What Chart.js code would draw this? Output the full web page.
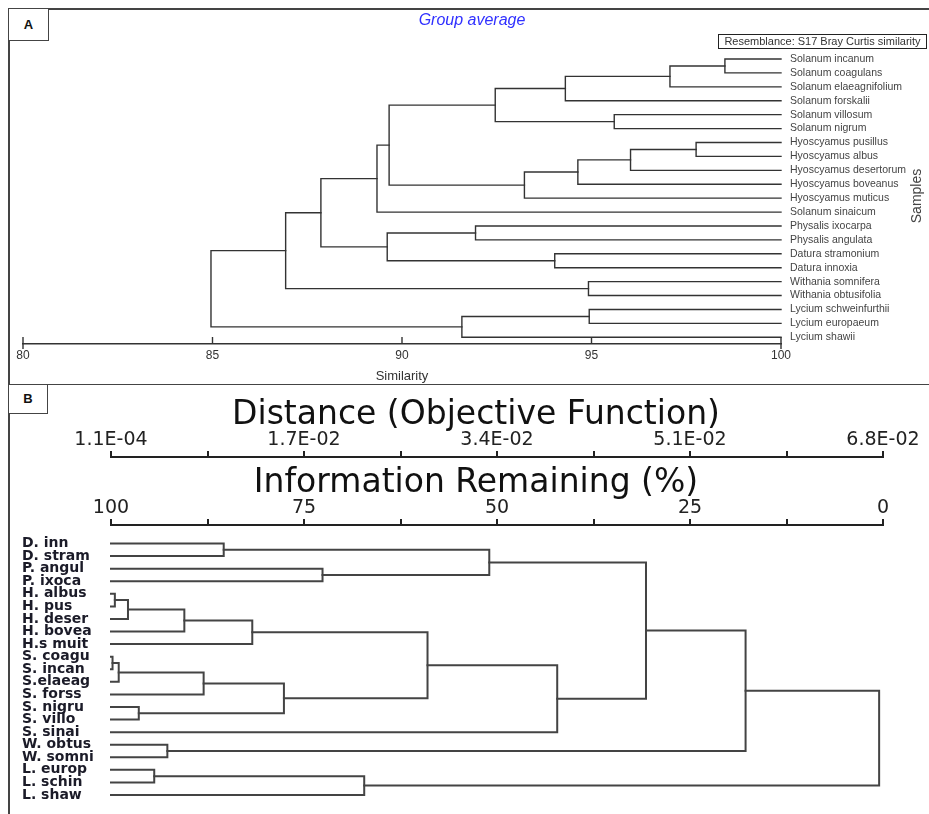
<!DOCTYPE html>
<html>
<head>
<meta charset="utf-8">
<title>Dendrograms</title>
<script src="https://cdn.jsdelivr.net/npm/chart.js@4.4.1/dist/chart.umd.min.js"></script>
<style>
  html, body { margin: 0; padding: 0; background: #fff; }
  #page { position: relative; width: 929px; height: 814px; overflow: hidden; font-family: 'Liberation Sans', Arial, sans-serif; }
  canvas { position: absolute; left: 0; }
  #chartA { top: 0; }
  #chartB { top: 384px; }
  .rule { position: absolute; background: #444; }
  .tag { position: absolute; box-sizing: border-box; border: 1.5px solid #444; background: #fff;
         display: flex; align-items: center; justify-content: center; font-weight: bold; font-size: 13px; color: #111; }
  #title { position: absolute; left: 0; width: 944px; top: 11px; text-align: center; font-style: italic; font-size: 16px; color: #3030ff; }
  #resemblance { position: absolute; left: 718px; top: 34px; width: 209px; height: 15px; box-sizing: border-box; border: 1px solid #222;
                 font-size: 11px; line-height: 13px; text-align: center; white-space: nowrap; color: #333; }
  #samples { position: absolute; left: 876px; top: 188px; width: 80px; height: 16px; line-height: 16px; text-align: center;
             font-size: 14px; color: #444; transform: rotate(-90deg); }
</style>
</head>
<body>
<div id="page">
  <div class="rule" style="left:8px; top:8px; width:921px; height:1.5px;"></div>
  <div class="rule" style="left:8px; top:9px; width:1.5px; height:805px;"></div>
  <div class="rule" style="left:8px; top:383.5px; width:921px; height:1.5px;"></div>
  <canvas id="chartA" width="929" height="384"></canvas>
  <canvas id="chartB" width="929" height="430"></canvas>
  <div class="tag" style="left:8px; top:8px; width:41px; height:33px;">A</div>
  <div class="tag" style="left:8px; top:383.5px; width:40px; height:30px;">B</div>
  <div id="title">Group average</div>
  <div id="resemblance">Resemblance: S17 Bray Curtis similarity</div>
  <div id="samples">Samples</div>
</div>
<script>
// Panel A - group average clustering, Bray Curtis similarity
const leavesA = ['Solanum incanum', 'Solanum coagulans', 'Solanum elaeagnifolium', 'Solanum forskalii',
  'Solanum villosum', 'Solanum nigrum', 'Hyoscyamus pusillus', 'Hyoscyamus albus', 'Hyoscyamus desertorum',
  'Hyoscyamus boveanus', 'Hyoscyamus muticus', 'Solanum sinaicum', 'Physalis ixocarpa', 'Physalis angulata',
  'Datura stramonium', 'Datura innoxia', 'Withania somnifera', 'Withania obtusifolia',
  'Lycium schweinfurthii', 'Lycium europaeum', 'Lycium shawii'];

// [child, child, similarity]; ids >= leaves.length are earlier merges
const mergesA = [
  [0, 1, 98.52], [21, 2, 97.07], [22, 3, 94.31], [4, 5, 95.60], [23, 24, 92.46],
  [6, 7, 97.76], [26, 8, 96.03], [27, 9, 94.64], [28, 10, 93.23], [25, 29, 89.66],
  [30, 11, 89.34], [12, 13, 91.94], [14, 15, 94.03], [32, 33, 89.61], [31, 34, 87.86],
  [16, 17, 94.92], [35, 36, 86.93], [18, 19, 94.94], [38, 20, 91.58], [37, 39, 84.96]
];
const similarityTicks = [80, 85, 90, 95, 100];

// Panel B - information remaining (%)
const leavesB = ['D. inn', 'D. stram', 'P. angul', 'P. ixoca', 'H. albus', 'H. pus', 'H. deser', 'H. bovea',
  'H.s muit', 'S. coagu', 'S. incan', 'S.elaeag', 'S. forss', 'S. nigru', 'S. villo', 'S. sinai',
  'W. obtus', 'W. somni', 'L. europ', 'L. schin', 'L. shaw'];

const mergesB = [
  [0, 1, 85.4], [2, 3, 72.6], [21, 22, 51.0], [4, 5, 99.5], [24, 6, 97.8],
  [25, 7, 90.5], [26, 8, 81.7], [9, 10, 99.8], [28, 11, 99.0], [29, 12, 88.0],
  [13, 14, 96.4], [30, 31, 77.6], [27, 32, 59.0], [33, 15, 42.2], [23, 34, 30.7],
  [16, 17, 92.7], [35, 36, 17.8], [18, 19, 94.4], [38, 20, 67.2], [37, 39, 0.5]
];
const infoTickValues = [100, 87.5, 75, 62.5, 50, 37.5, 25, 12.5, 0];
const infoLabels = ['100', '', '75', '', '50', '', '25', '', '0'];
const distanceLabels = ['1.1E-04', '', '1.7E-02', '', '3.4E-02', '', '5.1E-02', '', '6.8E-02'];

// turn merges into elbow polylines (x = height, y = leaf slot)
function dendroSegments(n, merges, leafHeight) {
  const pos = [], hgt = [];
  for (let i = 0; i < n; i++) { pos[i] = i; hgt[i] = leafHeight; }
  return merges.map(([a, b, h], k) => {
    pos[n + k] = (pos[a] + pos[b]) / 2;
    hgt[n + k] = h;
    return [
      { x: hgt[a], y: pos[a] }, { x: h, y: pos[a] },
      { x: h, y: pos[b] }, { x: hgt[b], y: pos[b] }
    ];
  });
}

function toDatasets(segments, color, width) {
  return segments.map(seg => ({
    data: seg, showLine: true, borderColor: color, borderWidth: width,
    pointRadius: 0, tension: 0, clip: false, borderCapStyle: 'square'
  }));
}

// tick marks of panel A axis point upwards
const upTicks = {
  id: 'upTicks',
  afterDraw(chart) {
    const s = chart.scales.x;
    const ctx = chart.ctx;
    ctx.save();
    ctx.strokeStyle = '#333';
    ctx.lineWidth = 1.4;
    s.ticks.forEach((t, i) => {
      const px = s.getPixelForValue(t.value);
      const end = i === 0 || i === s.ticks.length - 1;
      ctx.beginPath();
      ctx.moveTo(px, s.top - 7);
      ctx.lineTo(px, s.top + (end ? 5 : 0));
      ctx.stroke();
    });
    ctx.restore();
  }
};

const sans = 'Liberation Sans, Arial, sans-serif';
const wide = 'DejaVu Sans, sans-serif';

new Chart(document.getElementById('chartA'), {
  type: 'scatter',
  data: { datasets: toDatasets(dendroSegments(leavesA.length, mergesA, 100), '#333', 1.4) },
  options: {
    responsive: false,
    animation: false,
    layout: { padding: { left: 23, top: 52.04, right: 0, bottom: 0 } },
    plugins: { legend: { display: false }, tooltip: { enabled: false } },
    scales: {
      x: {
        type: 'linear', position: 'bottom', min: 80, max: 100,
        afterBuildTicks: s => { s.ticks = similarityTicks.map(v => ({ value: v })); },
        afterFit: s => { s.height = 40; },
        grid: { display: false, drawTicks: false },
        border: { display: true, color: '#333', width: 1.4 },
        ticks: { padding: 4, autoSkip: false, maxRotation: 0, color: '#333', font: { family: sans, size: 12 } },
        title: { display: true, text: 'Similarity', color: '#333', font: { family: sans, size: 13 }, padding: { top: 0, bottom: 0 } }
      },
      y: {
        type: 'linear', position: 'right', reverse: true, min: -0.5, max: 20.48,
        afterBuildTicks: s => { s.ticks = leavesA.map((_, i) => ({ value: i })); },
        afterFit: s => { s.width = 148; },
        grid: { display: false, drawTicks: false },
        border: { display: false },
        ticks: {
          padding: 9, crossAlign: 'near', autoSkip: false, color: '#444',
          font: { family: sans, size: 10.5 },
          callback: v => leavesA[v] ?? ''
        }
      }
    }
  },
  plugins: [upTicks]
});

// titles sit a little left of the axis centre in the original, trailing spaces shift them
const topAxis = (labels, weight, height, titleText, titlePad) => ({
  type: 'linear', axis: 'x', position: 'top', min: 0, max: 100, reverse: true, weight: weight,
  afterBuildTicks: s => { s.ticks = infoTickValues.map(v => ({ value: v })); },
  afterFit: s => { s.height = height; },
  grid: { display: true, drawOnChartArea: false, drawTicks: true, tickLength: 6, color: '#222', lineWidth: 2 },
  border: { display: true, color: '#222', width: 2 },
  ticks: {
    padding: 1.5, autoSkip: false, maxRotation: 0, color: '#222',
    font: { family: wide, size: 19, lineHeight: 1 },
    callback: v => labels[infoTickValues.indexOf(v)] ?? ''
  },
  title: { display: true, text: titleText + '\u00a0\u00a0\u00a0\u00a0', color: '#111',
           font: { family: wide, size: 33, lineHeight: 1 }, padding: { top: titlePad, bottom: 0 } }
});

new Chart(document.getElementById('chartB'), {
  type: 'scatter',
  data: { datasets: toDatasets(dendroSegments(leavesB.length, mergesB, 100), '#444', 2) },
  options: {
    responsive: false,
    animation: false,
    layout: { padding: { left: 22, top: 15, right: 46, bottom: 0 } },
    plugins: { legend: { display: false }, tooltip: { enabled: false } },
    scales: {
      x: topAxis(infoLabels, 0, 68, 'Information Remaining (%)', 9.5),
      x2: topAxis(distanceLabels, 1, 58, 'Distance (Objective Function)', 0),
      y: {
        type: 'linear', position: 'left', reverse: true, min: -1.4746, max: 20.9546,
        afterBuildTicks: s => { s.ticks = leavesB.map((_, i) => ({ value: i })); },
        afterFit: s => { s.width = 89; },
        grid: { display: false, drawTicks: false },
        border: { display: false },
        ticks: {
          padding: 0, crossAlign: 'far', autoSkip: false, color: '#1b1b28',
          font: { family: wide, size: 14, weight: 'bold', lineHeight: 1 },
          callback: v => leavesB[v] ?? ''
        }
      }
    }
  }
});
</script>
</body>
</html>
